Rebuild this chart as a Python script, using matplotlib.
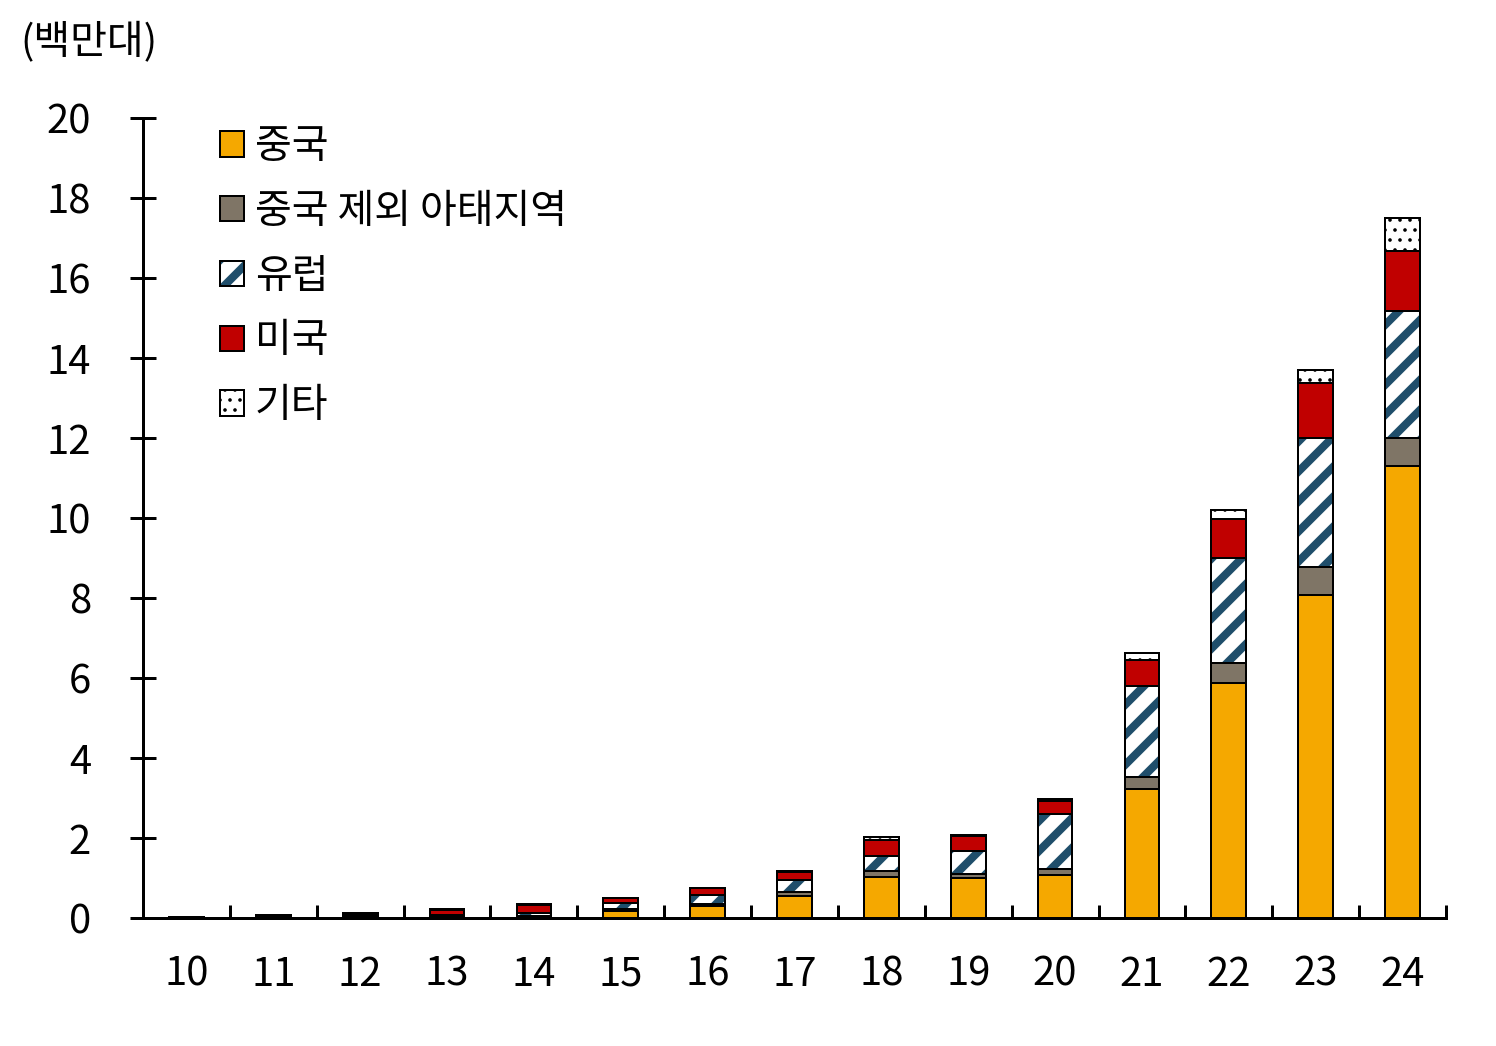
import matplotlib
matplotlib.use('Agg')
import matplotlib.pyplot as plt
from matplotlib.colors import to_rgba
import numpy as np

# 연도별 지역 판매량 (백만대)
years = ['10', '11', '12', '13', '14', '15', '16', '17', '18', '19', '20', '21', '22', '23', '24']
china = [0.005, 0.01, 0.02, 0.02, 0.04, 0.18, 0.30, 0.55, 1.03, 1.01, 1.07, 3.23, 5.88, 8.08, 11.30]
apac = [0.005, 0.01, 0.02, 0.02, 0.02, 0.04, 0.05, 0.10, 0.15, 0.08, 0.15, 0.30, 0.50, 0.70, 0.70]
europe = [0.005, 0.015, 0.02, 0.04, 0.06, 0.16, 0.23, 0.30, 0.37, 0.59, 1.37, 2.27, 2.62, 3.22, 3.18]
usa = [0.01, 0.03, 0.05, 0.13, 0.20, 0.12, 0.17, 0.21, 0.40, 0.37, 0.34, 0.65, 0.98, 1.38, 1.50]
other = [0.005, 0.005, 0.01, 0.01, 0.02, 0.01, 0.01, 0.02, 0.08, 0.02, 0.04, 0.18, 0.22, 0.32, 0.82]

DPI = 180
PX = 72 / DPI  # points per pixel
W, H = 1496, 1046

plt.rcParams['font.family'] = ['Noto Sans CJK KR', 'DejaVu Sans']
FS = 16

fig = plt.figure(figsize=(W / DPI, H / DPI), dpi=DPI)
ax = fig.add_axes([143 / W, 1 - 918 / H, (1446 - 143) / W, 800 / H])

x = np.arange(len(years))
bottom = np.zeros(len(years))
# values, label, face colour, hatch, hatch line width (px)
series = [
    (china, '중국', '#F5A800', None, 1),
    (apac, '중국 제외 아태지역', '#7F7566', None, 1),
    (europe, '유럽', 'white', '//', 8),
    (usa, '미국', '#C00000', None, 1),
    (other, '기타', 'white', '...', 1.6),
]
for vals, label, color, hatch, hlw in series:
    with plt.rc_context({'hatch.linewidth': hlw * PX}):
        bars = ax.bar(x, vals, 0.4, bottom=bottom, color=color, edgecolor='black',
                      linewidth=2 * PX, hatch=hatch, label=label)
    if label == '유럽':
        for p in bars:
            p._hatch_color = to_rgba('#1F4E6B')
    bottom += np.array(vals)

ax.set_xlim(-0.5, 14.5)
ax.set_ylim(0, 20)
ax.set_yticks(range(0, 21, 2))
ax.set_xticks(x, years)
ax.set_xticks(np.arange(-0.5, 15, 1), minor=True)
ax.tick_params(axis='x', which='major', length=0, pad=37 * PX, labelsize=FS)
ax.tick_params(axis='x', which='minor', direction='in', length=13 * PX, width=3 * PX)
ax.tick_params(axis='y', direction='inout', length=26 * PX, width=3 * PX,
               pad=39 * PX, labelsize=FS)
for s in ['top', 'right']:
    ax.spines[s].set_visible(False)
for s in ['left', 'bottom']:
    ax.spines[s].set_linewidth(3 * PX)

fig.text(20 / W, 1 - 42 / H, '(백만대)', fontsize=FS, va='center', ha='left')

leg = ax.legend(loc='upper left', bbox_to_anchor=(220 / W, 1 - 127 / H),
                bbox_transform=fig.transFigure, frameon=False, borderpad=0,
                borderaxespad=0, handlelength=0.6, handleheight=0.6,
                handletextpad=0.27, labelspacing=0.62, fontsize=FS)
# legend boxes take the hatch width of their series
for h, s in zip(leg.legend_handles, series):
    h._hatch_linewidth = s[4] * PX

fig.savefig('out.png', dpi=DPI)
